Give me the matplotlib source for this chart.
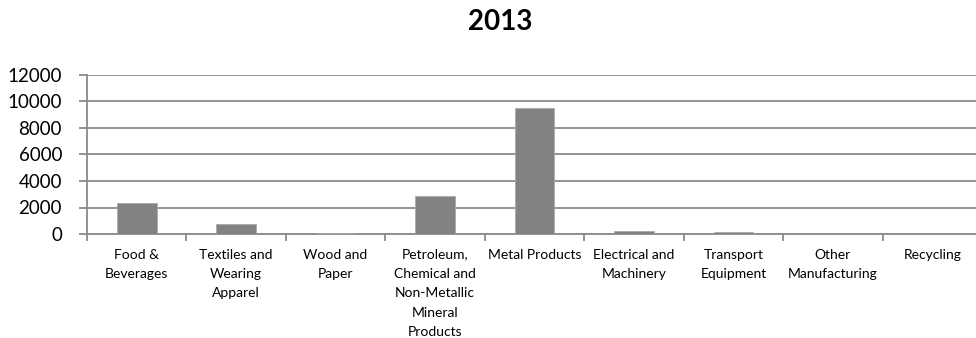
import matplotlib.pyplot as plt
import numpy as np

# ---- data ----
categories = ['Food &\nBeverages', 'Textiles and\nWearing\nApparel', 'Wood and\nPaper',
              'Petroleum,\nChemical and\nNon-Metallic\nMineral\nProducts', 'Metal Products',
              'Electrical and\nMachinery', 'Transport\nEquipment', 'Other\nManufacturing',
              'Recycling']
values = [2350, 760, 50, 2880, 9500, 200, 130, 20, 0]
yticks = [0, 2000, 4000, 6000, 8000, 10000, 12000]

plt.rcParams['font.family'] = ['Lato', 'DejaVu Sans']

fig = plt.figure(figsize=(9.76, 3.38), dpi=100)
ax = fig.add_axes([87/976, 1-234/338, 895/976, 159/338])

x = np.arange(len(categories))
ax.bar(x, values, width=0.4, color='#828285', edgecolor='#aaaaaa', linewidth=0.6, zorder=3)

ax.set_xlim(-0.5, len(categories)-0.5)
ax.set_ylim(0, 12000)
ax.set_yticks(yticks)
ax.set_yticklabels([str(v) for v in yticks], fontsize=13.5)
ax.yaxis.grid(True, color='#8a8a8a', linewidth=1.3, zorder=0)

ax.set_xticks(np.arange(len(categories)+1) - 0.5)
ax.set_xticklabels([])
ax.set_xticks(x, minor=True)
ax.set_xticklabels(categories, minor=True, fontsize=10, linespacing=1.74, va='top', ha='center')
ax.tick_params(axis='x', which='major', length=5, color='#8a8a8a', width=1.3, direction='out')
ax.tick_params(axis='x', which='minor', length=0, pad=10.5)
ax.tick_params(axis='y', length=6, color='#8a8a8a', width=1.3, pad=12)

for s in ['top', 'right']:
    ax.spines[s].set_visible(False)
for s in ['left', 'bottom']:
    ax.spines[s].set_color('#8a8a8a')
    ax.spines[s].set_linewidth(1.3)

fig.text(500/976, 1-22/338, '2013', fontsize=20, fontweight='bold', ha='center', va='center')

fig.savefig('out.png', dpi=100)
